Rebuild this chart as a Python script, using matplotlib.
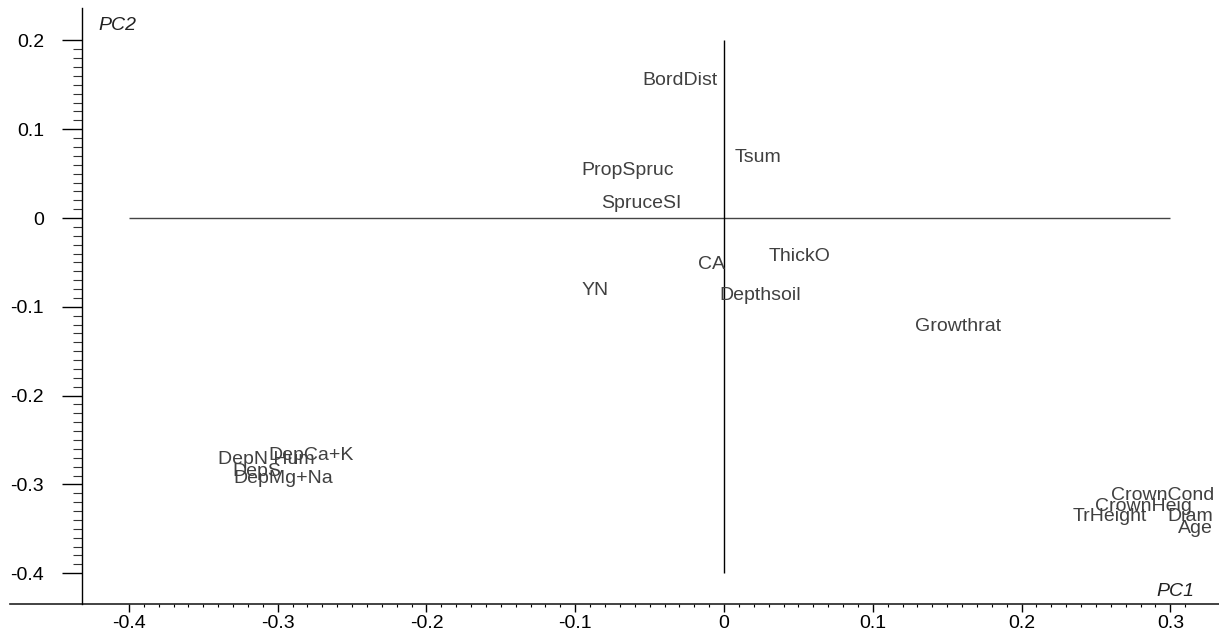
import matplotlib
matplotlib.use("Agg")
from matplotlib import pyplot as plt
from matplotlib.ticker import FixedLocator, FuncFormatter
import numpy as np

plt.rcParams['font.family'] = ['Liberation Sans', 'DejaVu Sans']

# loadings (label centres)
names = ['BordDist', 'Tsum', 'PropSpruc', 'SpruceSI', 'ThickO', 'CA', 'YN',
         'Depthsoil', 'Growthrat', 'DepCa+K', 'DepN Hum', 'DepS', 'DepMg+Na',
         'CrownCond', 'CrownHeig', 'TrHeight', 'Diam', 'Age']
pc1 = [-0.0296, 0.0228, -0.0645, -0.0558, 0.0511, -0.0087, -0.0867,
       0.0242, 0.1573, -0.2776, -0.3078, -0.3138, -0.2964,
       0.2950, 0.2822, 0.2594, 0.3132, 0.3165]
pc2 = [0.1554, 0.0676, 0.0540, 0.0158, -0.0428, -0.0518, -0.0811,
       -0.0867, -0.1227, -0.2669, -0.2725, -0.2860, -0.2928,
       -0.3120, -0.3254, -0.3367, -0.3367, -0.3500]

xlim = (-0.4315, 0.3327)
ylim = (-0.4347, 0.2365)

fig = plt.figure(figsize=(12.19, 6.37), dpi=100)
ax = fig.add_axes([0.0673, 0.0518, 0.9327, 0.9356])
ax.set_xlim(xlim)
ax.set_ylim(ylim)

# reference lines through the origin
ax.hlines(0, -0.4, 0.3, color='#444444', lw=1)
ax.vlines(0, -0.4, 0.2, color='black', lw=1)

for n, x, y in zip(names, pc1, pc2):
    ax.text(x, y, n, ha='center', va='center', fontsize=14, color='#404040')

ax.spines['top'].set_visible(False)
ax.spines['right'].set_visible(False)
ax.spines['bottom'].set_visible(False)
ax.spines['left'].set_linewidth(1)
# x axis line reaches past the y axis
ax.plot([-0.4798, xlim[1]], [ylim[0], ylim[0]], color='#222222', lw=1.2,
        clip_on=False)

fmt = FuncFormatter(lambda v, p: '0' if abs(v) < 1e-9 else f'{v:.1f}')
ax.xaxis.set_major_locator(FixedLocator(np.round(np.arange(-0.4, 0.31, 0.1), 2)))
ax.xaxis.set_minor_locator(FixedLocator(np.round(np.arange(-0.4, 0.315, 0.01), 2)))
ax.yaxis.set_major_locator(FixedLocator(np.round(np.arange(-0.4, 0.21, 0.1), 2)))
ax.yaxis.set_minor_locator(FixedLocator(np.round(np.arange(-0.4, 0.205, 0.01), 2)))
ax.xaxis.set_major_formatter(fmt)
ax.yaxis.set_major_formatter(fmt)

ax.tick_params(axis='x', which='major', direction='out', length=5.8, width=1,
               labelsize=14, pad=2)
ax.tick_params(axis='x', which='minor', direction='out', length=2.2, width=0.8)
ax.tick_params(axis='y', which='major', direction='out', length=14.4, width=1,
               labelsize=14, pad=13)
ax.tick_params(axis='y', which='minor', direction='out', length=6.5, width=0.8,
               color='#333333')

fig.text(117 / 1219, 1 - 25 / 637, 'PC2', fontsize=14, style='italic',
         ha='center', va='center', color='#222222')
fig.text(1175 / 1219, 1 - 592 / 637, 'PC1', fontsize=14, style='italic',
         ha='center', va='center', color='#222222')

fig.savefig('out.png', dpi=100)
